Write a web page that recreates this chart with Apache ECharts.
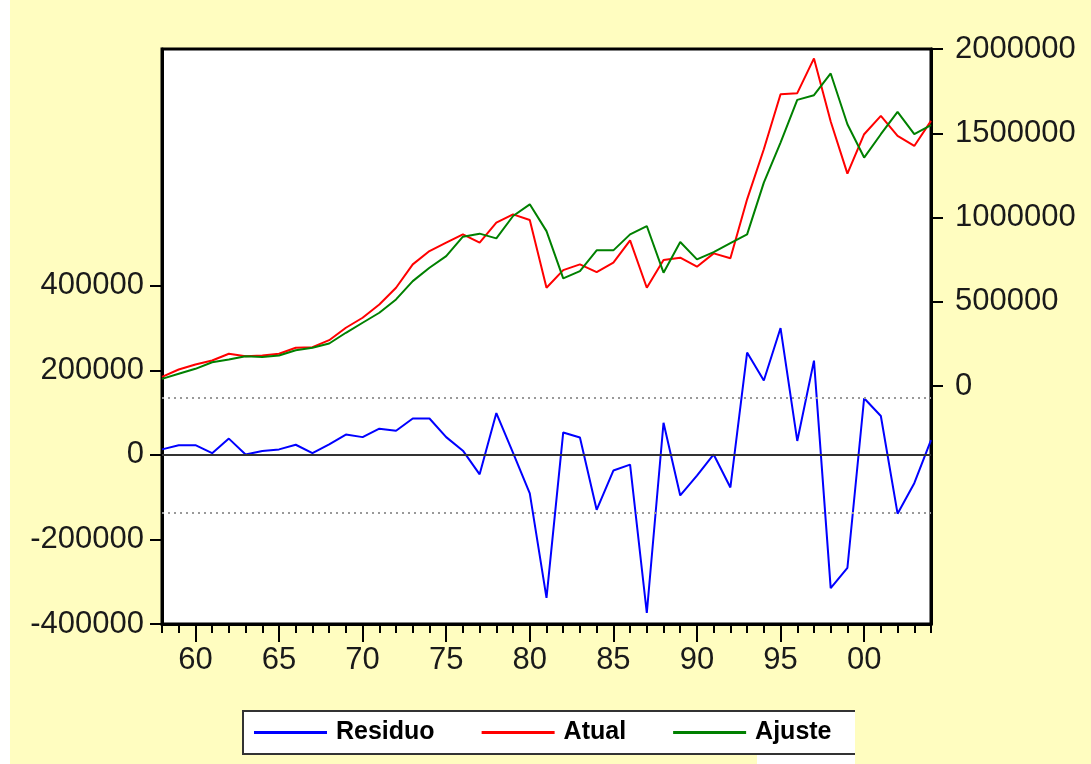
<!DOCTYPE html>
<html>
<head>
<meta charset="utf-8">
<script src="https://cdn.jsdelivr.net/npm/echarts@6/dist/echarts.min.js"></script>
<style>
html,body{margin:0;padding:0;background:#fff;}
#chart{width:1091px;height:764px;}
</style>
</head>
<body>
<div id="chart"></div>
<script>
const years = [1958,1959,1960,1961,1962,1963,1964,1965,1966,1967,1968,1969,1970,1971,1972,1973,1974,1975,1976,1977,1978,1979,1980,1981,1982,1983,1984,1985,1986,1987,1988,1989,1990,1991,1992,1993,1994,1995,1996,1997,1998,1999,2000,2001,2002,2003,2004];
const residuo = [13000,23000,23000,4000,38500,1000,9000,13000,24000,4000,
  25000,48000,42000,62000,57000,86000,86000,42000,10000,-46000,
  99000,5000,-91000,-338000,53000,41000,-130000,-37000,-23000,-374000,
  76000,-96000,-49000,1000,-77000,242000,176000,300000,33000,223000,
  -315000,-267000,134000,92000,-139000,-67000,35000];
const atual = [55800,99200,128900,152600,192400,178100,183000,192400,228000,231600,
  273100,346800,406200,485100,584300,722700,801600,851500,900800,851500,
  970300,1019500,985700,584300,688800,722700,676900,732800,865200,584300,
  748200,762400,709000,788000,759000,1108600,1405500,1732100,1738100,1944100,
  1570000,1261200,1494600,1603300,1484400,1425100,1573600];
const ajuste = [43900,73600,103300,142500,158500,178100,174000,182300,213800,228000,
  253500,317100,376500,435800,514800,623500,703000,771900,887100,904900,
  877000,1009500,1078900,920000,639500,682900,805800,805800,900800,950100,
  673400,855100,752300,795700,849000,900800,1207800,1445300,1698300,1726200,
  1855000,1554000,1356200,1494600,1627000,1494600,1548000];
const leftTicks = [-400000,-200000,0,200000,400000];
const rightTicks = [0,500000,1000000,1500000,2000000];
const xLabelYears = [1960,1965,1970,1975,1980,1985,1990,1995,2000];
const stdErr = 135700;

const pair = arr => years.map((y,i)=>[y,arr[i]]);
const FONT = '"Liberation Sans", Arial, sans-serif';
const lab = {fontFamily: FONT, fontSize: 31, color: '#1a1a1a'};
const plain = v => String(Math.round(v));

const chart = echarts.init(document.getElementById('chart'), null, {renderer:'canvas'});
chart.setOption({
  animation: false,
  backgroundColor: '#FFFDC0',
  graphic: [
    {type:'rect', left:0, top:0, shape:{x:0,y:0,width:10,height:764}, style:{fill:'#ffffff'}, z:-10},
    {type:'rect', shape:{x:757,y:755,width:98,height:9}, style:{fill:'#ffffff'}, z:-10},
    {type:'rect', shape:{x:242,y:711,width:613,height:43}, style:{fill:'#ffffff'}, z:-5},
    {type:'line', shape:{x1:242,y1:711,x2:855,y2:711}, style:{stroke:'#333',lineWidth:2}, z:-4},
    {type:'line', shape:{x1:242,y1:754,x2:855,y2:754}, style:{stroke:'#333',lineWidth:2}, z:-4},
    {type:'line', shape:{x1:243,y1:711,x2:243,y2:754}, style:{stroke:'#333',lineWidth:2}, z:-4}
  ],
  grid: {left:162, right:160, top:49, bottom:140, show:true, backgroundColor:'#ffffff', borderColor:'#000', borderWidth:3},
  legend: {
    left: 254, top: 720, padding: 0, itemGap: 47, itemWidth: 73, itemHeight: 3,
    icon: 'rect',
    textStyle: {fontFamily: FONT, fontSize: 25, fontWeight: 'bold', color: '#000', padding:[0,0,0,4]},
    data: ['Residuo','Atual','Ajuste']
  },
  xAxis: [
    {type:'value', min:1958, max:2004, interval:1, position:'bottom',
     axisLine:{show:true, onZero:false, lineStyle:{color:'#000', width:3}},
     axisTick:{show:true, length:9, lineStyle:{color:'#000', width:2}},
     axisLabel:{show:false}, splitLine:{show:false}},
    {type:'value', min:1958, max:2004, position:'bottom',
     axisLine:{show:false, onZero:false},
     axisTick:{show:true, length:18, customValues: xLabelYears, lineStyle:{color:'#000', width:2}},
     axisLabel:Object.assign({show:true, margin:21, customValues: xLabelYears,
        formatter: v => String(v).slice(2)}, lab),
     splitLine:{show:false}}
  ],
  yAxis: [
    {type:'value', min:-400000, max:960000, position:'left',
     axisLine:{show:true, onZero:false, lineStyle:{color:'#000', width:3}},
     axisTick:{show:true, length:12, customValues: leftTicks, lineStyle:{color:'#000', width:2}},
     axisLabel:Object.assign({show:true, margin:18, customValues: leftTicks, formatter: plain}, lab),
     splitLine:{show:false}},
    {type:'value', min:-1410000, max:2000000, position:'right',
     axisLine:{show:true, onZero:false, lineStyle:{color:'#000', width:3}},
     axisTick:{show:true, length:12, customValues: rightTicks, lineStyle:{color:'#000', width:2}},
     axisLabel:Object.assign({show:true, margin:24, customValues: rightTicks, formatter: plain}, lab),
     splitLine:{show:false}}
  ],
  series: [
    {name:'Residuo', type:'line', xAxisIndex:0, yAxisIndex:0, data: pair(residuo),
     showSymbol:false, symbol:'none', lineStyle:{color:'#0000ff', width:2}, itemStyle:{color:'#0000ff'},
     markLine:{silent:true, symbol:'none', label:{show:false}, animation:false,
       data:[
         {yAxis:0, lineStyle:{color:'#333', width:2, type:'solid'}},
         {yAxis:stdErr, lineStyle:{color:'#999', width:2, type:[2,4]}},
         {yAxis:-stdErr, lineStyle:{color:'#999', width:2, type:[2,4]}}
       ]}},
    {name:'Atual', type:'line', xAxisIndex:0, yAxisIndex:1, data: pair(atual),
     showSymbol:false, symbol:'none', lineStyle:{color:'#ff0000', width:2}, itemStyle:{color:'#ff0000'}},
    {name:'Ajuste', type:'line', xAxisIndex:0, yAxisIndex:1, data: pair(ajuste),
     showSymbol:false, symbol:'none', lineStyle:{color:'#008000', width:2}, itemStyle:{color:'#008000'}}
  ]
});
</script>
</body>
</html>
